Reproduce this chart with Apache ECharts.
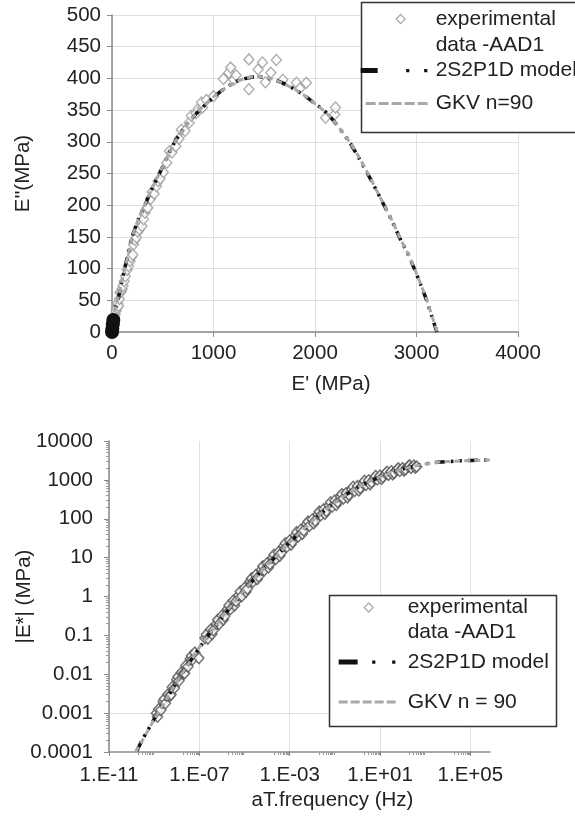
<!DOCTYPE html>
<html><head><meta charset="utf-8">
<script src="https://cdn.jsdelivr.net/npm/echarts@6/dist/echarts.min.js"></script>
<style>html,body{margin:0;padding:0;background:#fff}#c{width:575px;height:825px}</style>
</head><body><div id="c"></div>
<script>
// ---------------- DATA ----------------
const EXP_NAME = 'experimental\ndata -AAD1';
const MODEL_NAME = '2S2P1D model';
const GKV_TOP_NAME = 'GKV n=90';
const GKV_BOTTOM_NAME = 'GKV n = 90';

// Cole-Cole plane: [E' (MPa), E'' (MPa)]
const expColeCole = [
  [3,2],[6,5],[10,9],[15,13],[20,18],[26,22],[32,28],[40,33],[48,38],[56,45],[65,41],[72,52],
  [79,62],[90,64],[100,68],[108,73],[120,80],[132,88],[150,98],[162,104],[178,112],[190,118],
  [205,122],[212,138],[225,145],[241,149],[255,158],[270,162],[295,167],[310,178],[325,188],
  [345,195],[353,196],[380,210],[396,221],[415,218],[439,230],[455,238],[475,242],[505,252],
  [540,267],[565,285],[590,283],[629,293],[660,305],[683,319],[719,317],[760,330],[781,341],
  [827,345],[850,352],[892,354],[881,362],[930,366],[1000,372],[1097,399],[1151,409],[1169,417],
  [1200,398],[1223,405],[1349,430],[1349,383],[1439,414],[1482,425],[1511,394],[1565,409],
  [1619,429],[1683,398],[1817,393],[1850,384],[1914,393],[2104,338],[2194,343],[2201,354]
];
const model2S2P1DColeCole = [
  [0,0],[3,5],[8,12],[13,19],[20,26],[40,40],[65,55],[90,75],[126,100],[160,125],[198,150],[260,178],
  [324,200],[400,228],[468,250],[540,275],[620,300],[740,328],[863,350],[1000,370],[1100,383],
  [1223,395],[1320,400],[1420,403],[1520,401],[1650,395],[1800,383],[1920,370],[2000,360],
  [2086,350],[2200,330],[2338,300],[2430,275],[2518,250],[2600,225],[2680,200],[2760,175],
  [2830,150],[2910,125],[2978,100],[3040,75],[3100,50],[3150,25],[3201,0]
];
const gkvColeCole = [
  [0,0],[10,14],[25,30],[45,44],[70,60],[100,82],[130,102],[165,127],[205,153],[265,180],
  [330,203],[405,230],[475,253],[550,278],[630,302],[750,330],[870,352],[1000,371],[1110,384],
  [1230,395],[1330,401],[1430,403],[1530,401],[1660,394],[1810,382],[1930,369],[2010,359],
  [2095,348],[2210,328],[2345,299],[2440,274],[2525,249],[2605,224],[2685,199],[2765,174],
  [2835,149],[2915,124],[2983,99],[3045,74],[3105,49],[3155,24],[3205,0]
];

// Master curve: [aT.frequency (Hz), |E*| (MPa)]
const expMaster = [
  [1.26e-9,0.0010],[1.41e-9,0.00081],[1.58e-9,0.00126],[2.0e-9,0.0012],[2.5e-9,0.0020],
  [2.82e-9,0.0023],[3.16e-9,0.0018],[3.98e-9,0.0030],[5.0e-9,0.0028],[5.62e-9,0.0030],
  [6.3e-9,0.0047],[7.9e-9,0.0044],[1.0e-8,0.0072],[1.12e-8,0.0086],[1.26e-8,0.0068],
  [1.58e-8,0.011],[2.0e-8,0.0105],[2.24e-8,0.0106],[2.5e-8,0.0166],[3.16e-8,0.0158],
  [3.98e-8,0.025],[4.47e-8,0.0295],[5.0e-8,0.024],[6.3e-8,0.036],[9.5e-8,0.026],
  [1.78e-7,0.085],[2.04e-7,0.105],[2.37e-7,0.083],[3.16e-7,0.141],[3.63e-7,0.108],
  [4.2e-7,0.135],[5.6e-7,0.197],[6.46e-7,0.251],[7.5e-7,0.195],[1.0e-6,0.32],[1.15e-6,0.254],
  [1.33e-6,0.31],[1.78e-6,0.48],[2.04e-6,0.589],[2.37e-6,0.47],[3.16e-6,0.78],[3.63e-6,0.59],
  [4.2e-6,0.76],[5.6e-6,1.08],[6.46e-6,1.34],[7.5e-6,1.02],[1.0e-5,1.66],[1.15e-5,1.32],
  [1.33e-5,1.58],[1.78e-5,2.48],[2.04e-5,2.92],[2.37e-5,2.40],[3.16e-5,3.55],[3.63e-5,2.79],
  [4.2e-5,3.27],[5.6e-5,4.9],[6.46e-5,5.97],[7.5e-5,4.73],[1.0e-4,7.2],[1.15e-4,5.57],
  [1.33e-4,6.8],[1.78e-4,10.0],[2.04e-4,11.9],[2.37e-4,9.2],[3.16e-4,13.8],[3.63e-4,11.1],
  [4.2e-4,13.2],[5.6e-4,20.2],[6.46e-4,23.4],[7.5e-4,19.1],[1.0e-3,27.5],[1.15e-3,21.6],
  [1.33e-3,25.7],[1.78e-3,37],[2.04e-3,45],[2.37e-3,34.7],[3.16e-3,52.5],[3.63e-3,40.9],
  [4.2e-3,50],[5.6e-3,71.6],[6.46e-3,84.5],[7.5e-3,66],[1.0e-2,95.5],[1.15e-2,75.9],
  [1.33e-2,89],[1.78e-2,130],[2.04e-2,153],[2.37e-2,123],[3.16e-2,174],[3.63e-2,134],
  [4.2e-2,158],[5.6e-2,221],[6.46e-2,265],[7.5e-2,204],[0.1,295],[0.115,226],[0.133,269],
  [0.178,372],[0.204,431],[0.237,331],[0.316,457],[0.363,356],[0.42,412],[0.56,575],
  [0.646,664],[0.75,519],[1.0,692],[1.15,535],[1.33,617],[1.78,822],[2.04,940],[2.37,741],
  [3.16,977],[3.63,769],[4.2,871],[5.6,1109],[6.46,1262],[7.5,1023],[10,1288],[11.5,1054],
  [13.3,1175],[17.8,1462],[20.4,1614],[23.7,1349],[31.6,1660],[36.3,1384],[42,1514],
  [56,1799],[64.6,1977],[75,1698],[100,1995],[115,1730],[133,1862],[178,2213],[204,2360],
  [237,2042],[316,2344],[363,2070],[420,2188]
];
const model2S2P1DMaster = [
  [1.7e-10,0.000107],[3.2e-10,0.00022],[1e-9,0.0007],[3.2e-9,0.0021],[1e-8,0.0063],
  [3.2e-8,0.018],[1e-7,0.048],[3.2e-7,0.12],[1e-6,0.28],[3.2e-6,0.66],[1e-5,1.48],
  [3.2e-5,3.2],[1e-4,6.3],[3.2e-4,12.6],[1e-3,24.5],[3.2e-3,47],[1e-2,87],[3.2e-2,155],
  [0.1,263],[0.32,417],[1,631],[3.2,891],[10,1200],[32,1550],[100,1905],[320,2240],
  [1000,2570],[3200,2820],[1e4,2950],[3.2e4,3090],[1e5,3160],[7.3e5,3240]
];
const gkvMaster = [
  [1.5e-10,0.0001],[3.2e-10,0.00021],[1e-9,0.00069],[3.2e-9,0.0021],[1e-8,0.0064],
  [3.2e-8,0.018],[1e-7,0.049],[3.2e-7,0.12],[1e-6,0.29],[3.2e-6,0.67],[1e-5,1.5],
  [3.2e-5,3.1],[1e-4,6.4],[3.2e-4,12.5],[1e-3,24.8],[3.2e-3,47.5],[1e-2,88],[3.2e-2,156],
  [0.1,262],[0.32,418],[1,630],[3.2,890],[10,1195],[32,1545],[100,1900],[320,2235],
  [1000,2565],[3200,2815],[1e4,2960],[3.2e4,3080],[1e5,3150],[7.3e5,3230]
];

// Tick values
const freqTicks = [1e-11, 1e-7, 1e-3, 1e1, 1e5];
const modulusTicks = [0.0001, 0.001, 0.01, 0.1, 1, 10, 100, 1000, 10000];
const modulusGridLines = [0.001];

// ---------------- STYLE / BUILD ----------------
const FONT = '"Liberation Sans", Arial, Helvetica, sans-serif';
const TXT = '#222';
const AXC = '#8a8a8a';
const GRIDC = '#e0e0e0';

// minor ticks (Excel-like 2..9 clusters)
const minorFreq = [];
for (let k = -10; k <= 4; k += 2) for (let m = 2; m <= 9; m++) minorFreq.push(m * Math.pow(10, k));
const minorMod = [];
for (let k = -4; k <= 3; k++) for (let m = 2; m <= 9; m++) minorMod.push(m * Math.pow(10, k));

function fmtFreq(v) {
  const e = Math.round(Math.log10(v));
  const a = Math.abs(e);
  return '1.E' + (e < 0 ? '-' : '+') + (a < 10 ? '0' : '') + a;
}
function fmtMod(v) {
  const e = Math.round(Math.log10(v));
  return e >= 0 ? String(Math.pow(10, e)) : '0.' + '0'.repeat(-e - 1) + '1';
}
function fmtPlain(v) { return String(v); }
function legendFmt(name) { return name === EXP_NAME ? '\n' + name : name; }

const labelStyle = {fontSize: 20.5, color: TXT, fontFamily: FONT};
const nameStyle = {fontSize: 20.5, color: TXT, fontFamily: FONT};

// legend icons
const ICON_DIAMOND_TOP = 'path://M0,0M40,2.5L44.5,7L40,11.5L35.5,7ZM70,14';
const ICON_MODEL_TOP = 'path://M0,0M0,4.5h17v5h-17zM45.5,5.5h3.2v3.2h-3.2zM63.5,5.5h3.2v3.2h-3.2zM70,14';
const ICON_GKV_TOP = 'path://M0,0M5,5.5h10v3h-10zM18,5.5h10v3h-10zM31,5.5h10v3h-10zM44,5.5h10v3h-10zM57,5.5h10v3h-10zM70,14';
const ICON_DIAMOND_BOT = 'path://M0,0M30,2.5L34.5,7L30,11.5L25.5,7ZM64,14';
const ICON_MODEL_BOT = 'path://M0,0M0,4.5h19v5h-19zM33.5,5.5h3.2v3.2h-3.2zM53.5,5.5h3.2v3.2h-3.2zM64,14';
const ICON_GKV_BOT = 'path://M0,0M0,5.5h9v3h-9zM12,5.5h9v3h-9zM24,5.5h9v3h-9zM36,5.5h9v3h-9zM48,5.5h9v3h-9zM64,14';

const modelLine = {color: '#111', width: 3.5, type: [10, 6, 2.5, 6, 2.5, 6]};
const gkvLine = {color: '#a8a8a8', width: 3, type: [6, 4]};

const chart = echarts.init(document.getElementById('c'), null, {renderer: 'canvas'});
chart.setOption({
  animation: false,
  backgroundColor: '#fff',
  textStyle: {fontFamily: FONT},
  grid: [
    {left: 112, right: 57, top: 15, bottom: 493, containLabel: false, outerBoundsMode: 'none'},
    {left: 109, right: 85, top: 441, bottom: 73, containLabel: false, outerBoundsMode: 'none'}
  ],
  xAxis: [
    {
      gridIndex: 0, type: 'value', min: 0, max: 4000, interval: 1000,
      name: "E' (MPa)", nameLocation: 'middle', nameGap: 42, nameMoveOverlap: false,
      nameTextStyle: Object.assign({padding: [0, 0, 0, 32]}, nameStyle),
      axisLine: {onZero: false, lineStyle: {color: AXC, width: 1.5}},
      axisTick: {length: 5, lineStyle: {color: AXC}},
      axisLabel: Object.assign({margin: 11, formatter: fmtPlain}, labelStyle),
      splitLine: {show: true, lineStyle: {color: GRIDC}}
    },
    {
      gridIndex: 1, type: 'log', logBase: 10, min: 1e-11, max: 7.4e5, position: 'bottom',
      name: 'aT.frequency (Hz)', nameLocation: 'middle', nameGap: 38, nameMoveOverlap: false,
      nameTextStyle: Object.assign({padding: [0, 0, 0, 66]}, nameStyle),
      axisLine: {onZero: false, lineStyle: {color: AXC, width: 1.5}},
      axisTick: {customValues: freqTicks, length: 4, lineStyle: {color: AXC}},
      axisLabel: Object.assign({customValues: freqTicks, formatter: fmtFreq, margin: 13}, labelStyle),
      splitLine: {show: true, lineStyle: {color: GRIDC}}
    },
    {
      gridIndex: 1, type: 'log', logBase: 10, min: 1e-11, max: 7.4e5, position: 'bottom',
      axisLine: {show: false}, axisLabel: {show: false}, splitLine: {show: false},
      axisTick: {customValues: minorFreq, length: 3, lineStyle: {color: '#999'}}
    }
  ],
  yAxis: [
    {
      gridIndex: 0, type: 'value', min: 0, max: 500, interval: 50,
      name: "E''(MPa)", nameLocation: 'middle', nameGap: 78, nameMoveOverlap: false,
      nameTextStyle: nameStyle,
      axisLine: {show: true, onZero: false, lineStyle: {color: AXC, width: 1.5}},
      axisTick: {show: true, length: 5, lineStyle: {color: AXC}},
      axisLabel: Object.assign({margin: 11, formatter: fmtPlain}, labelStyle),
      splitLine: {show: true, lineStyle: {color: GRIDC}}
    },
    {
      gridIndex: 1, type: 'log', logBase: 10, min: 1e-4, max: 1e4, position: 'left',
      name: '|E*| (MPa)', nameLocation: 'middle', nameGap: 74, nameMoveOverlap: false,
      nameTextStyle: nameStyle,
      axisLine: {show: true, onZero: false, lineStyle: {color: AXC, width: 1.5}},
      axisTick: {show: true, customValues: modulusTicks, length: 5, lineStyle: {color: AXC}},
      axisLabel: Object.assign({customValues: modulusTicks, formatter: fmtMod, margin: 16}, labelStyle),
      splitLine: {show: false}
    },
    {
      gridIndex: 1, type: 'log', logBase: 10, min: 1e-4, max: 1e4, position: 'left',
      axisLine: {show: false}, axisLabel: {show: false}, splitLine: {show: false},
      axisTick: {show: true, customValues: minorMod, length: 3, lineStyle: {color: '#999'}}
    },
    {
      gridIndex: 1, type: 'log', logBase: 10, min: 1e-4, max: 1e4, position: 'left',
      axisLine: {show: false}, axisLabel: {show: false},
      axisTick: {show: false, customValues: modulusGridLines},
      splitLine: {show: true, lineStyle: {color: GRIDC}}
    }
  ],
  legend: [
    {
      left: 360, top: -20, orient: 'vertical', padding: 0, itemGap: 0,
      itemWidth: 70, itemHeight: 14, selectedMode: false, formatter: legendFmt,
      textStyle: {fontSize: 21, color: TXT, fontFamily: FONT, lineHeight: 25},
      data: [
        {name: EXP_NAME, icon: ICON_DIAMOND_TOP,
         itemStyle: {color: '#fff', borderColor: '#9a9a9a', borderWidth: 1.3},
         textStyle: {lineHeight: 26}},
        {name: MODEL_NAME, icon: ICON_MODEL_TOP,
         itemStyle: {color: '#111', borderColor: '#111', borderWidth: 0},
         textStyle: {lineHeight: 25}},
        {name: GKV_TOP_NAME, icon: ICON_GKV_TOP,
         itemStyle: {color: '#a8a8a8', borderColor: '#a8a8a8', borderWidth: 0},
         textStyle: {lineHeight: 41}}
      ]
    },
    {
      left: 338, top: 570, orient: 'vertical', padding: 0, itemGap: 0,
      itemWidth: 64, itemHeight: 14, selectedMode: false, formatter: legendFmt,
      textStyle: {fontSize: 21, color: TXT, fontFamily: FONT, lineHeight: 25},
      data: [
        {name: EXP_NAME, icon: ICON_DIAMOND_BOT,
         itemStyle: {color: '#fff', borderColor: '#9a9a9a', borderWidth: 1.3},
         textStyle: {lineHeight: 25}},
        {name: MODEL_NAME, icon: ICON_MODEL_BOT,
         itemStyle: {color: '#111', borderColor: '#111', borderWidth: 0},
         textStyle: {lineHeight: 34}},
        {name: GKV_BOTTOM_NAME, icon: ICON_GKV_BOT,
         itemStyle: {color: '#a8a8a8', borderColor: '#a8a8a8', borderWidth: 0},
         textStyle: {lineHeight: 46}}
      ]
    }
  ],
  graphic: [
    {type: 'rect', z: 3, shape: {x: 361.5, y: 2.5, width: 240, height: 130},
     style: {fill: '#fff', stroke: '#333', lineWidth: 1.5}},
    {type: 'rect', z: 3, shape: {x: 329.5, y: 595.5, width: 227, height: 131},
     style: {fill: '#fff', stroke: '#333', lineWidth: 1.5}}
  ],
  series: [
    {
      name: EXP_NAME, type: 'scatter', xAxisIndex: 0, yAxisIndex: 0,
      data: expColeCole, symbol: 'diamond', symbolSize: [10, 11],
      itemStyle: {color: '#fff', borderColor: '#9a9a9a', borderWidth: 1.4}, z: 2
    },
    {
      name: MODEL_NAME, type: 'line', xAxisIndex: 0, yAxisIndex: 0,
      data: model2S2P1DColeCole, smooth: 0.2, clip: false,
      showSymbol: true, showAllSymbol: true, symbol: 'circle',
      symbolSize: function (v) { return (v[0] < 25 && v[1] < 22) ? 14 : 0; },
      itemStyle: {color: '#111'}, lineStyle: modelLine, z: 3
    },
    {
      name: GKV_TOP_NAME, type: 'line', xAxisIndex: 0, yAxisIndex: 0,
      data: gkvColeCole, smooth: 0.2, showSymbol: false, symbol: 'none',
      lineStyle: gkvLine, z: 3
    },
    {
      name: EXP_NAME, type: 'scatter', xAxisIndex: 1, yAxisIndex: 1,
      data: expMaster, symbol: 'diamond', symbolSize: [10, 11],
      itemStyle: {color: '#fff', borderColor: '#505050', borderWidth: 1.5}, z: 2
    },
    {
      name: MODEL_NAME, type: 'line', xAxisIndex: 1, yAxisIndex: 1,
      data: model2S2P1DMaster, smooth: 0.2, showSymbol: false, symbol: 'none',
      lineStyle: modelLine, z: 3
    },
    {
      name: GKV_BOTTOM_NAME, type: 'line', xAxisIndex: 1, yAxisIndex: 1,
      data: gkvMaster, smooth: 0.2, showSymbol: false, symbol: 'none',
      lineStyle: gkvLine, z: 3
    }
  ]
});
</script></body></html>
